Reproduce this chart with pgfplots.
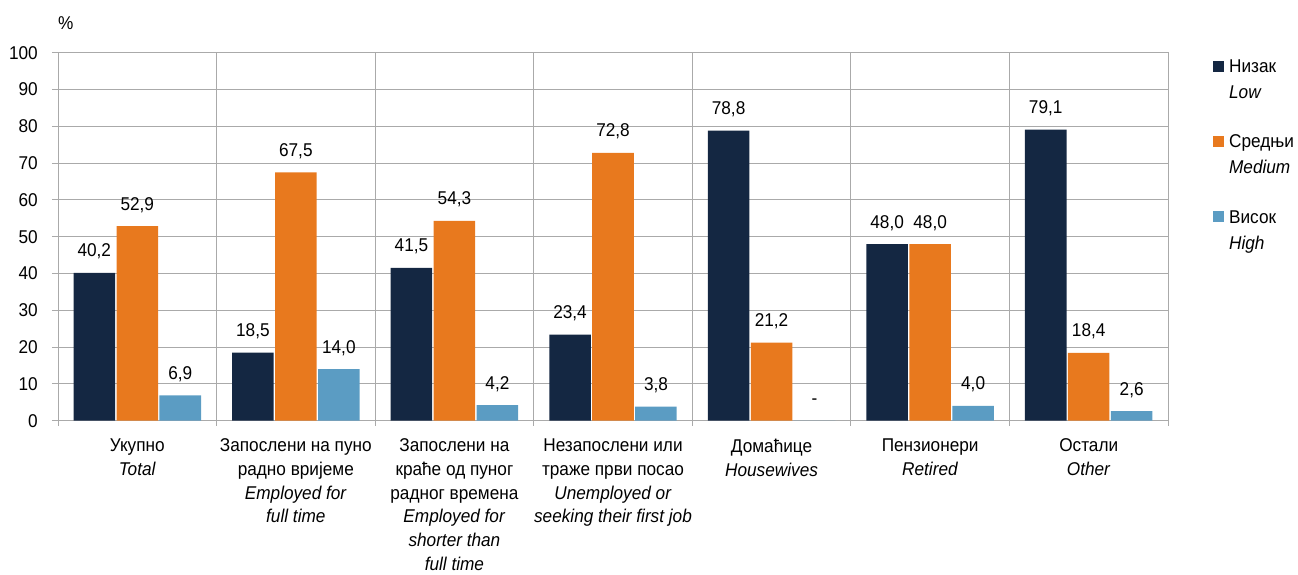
\documentclass[border=0pt]{standalone}
\usepackage{fontspec}
\setmainfont{Liberation Sans}[FakeStretch=0.93]
\usepackage{pgfplots}
\usepackage{pgfplotstable}
\pgfplotsset{compat=1.18}
\definecolor{cnavy}{RGB}{20,39,66}
\definecolor{corange}{RGB}{232,121,30}
\definecolor{cblue}{RGB}{91,156,195}
\definecolor{cgrid}{RGB}{170,170,170}
\pgfplotstableread{
x low lowl med medl high highl
0 40.2 40,2 52.9 52,9 6.9 6,9
1 18.5 18,5 67.5 67,5 14.0 14,0
2 41.5 41,5 54.3 54,3 4.2 4,2
3 23.4 23,4 72.8 72,8 3.8 3,8
4 78.8 78,8 21.2 21,2 0 -
5 48.0 48,0 48.0 48,0 4.0 4,0
6 79.1 79,1 18.4 18,4 2.6 2,6
}\datatable
\begin{document}
\begin{tikzpicture}[font=\fontsize{18.5}{23.7}\selectfont]
\useasboundingbox (0pt,0pt) rectangle (1298pt,575pt);
\begin{axis}[
  at={(58pt,154.3pt)}, anchor=south west,
  scale only axis, width=1110pt, height=368pt,
  xmin=-0.5, xmax=6.5, ymin=0, ymax=100,
  ytick={0,10,...,100},
  xtick={0,...,6},
  minor xtick={-0.5,0.5,...,6.5},
  xticklabels={
    {Укупно\\\textit{Total}},
    {Запослени на пуно\\радно вријеме\\\textit{Employed for}\\\textit{full time}},
    {Запослени на\\краће од пуног\\радног времена\\\textit{Employed for}\\\textit{shorter than}\\\textit{full time}},
    {Незапослени или\\траже први посао\\\textit{Unemployed or}\\\textit{seeking their first job}},
    {Домаћице\\\textit{Housewives}},
    {Пензионери\\\textit{Retired}},
    {Остали\\\textit{Other}}},
  xticklabel style={align=center, anchor=north, inner sep=0pt, yshift=-12pt},
  yticklabel style={anchor=east, inner sep=0pt, xshift=-14pt},
  /pgf/number format/assume math mode=true,
  tick align=outside,
  xtick pos=bottom, ytick pos=left,
  major tick length=6pt, minor tick length=5pt,
  major x tick style={draw=none},
  minor x tick style={cgrid, line width=0.8pt},
  major y tick style={cgrid, line width=0.8pt},
  ymajorgrids, xminorgrids,
  major grid style={cgrid, line width=0.8pt},
  minor grid style={cgrid, line width=0.8pt},
  axis line style={cgrid, line width=0.8pt},
  ybar, bar width=0.262,
  point meta=explicit symbolic,
  nodes near coords,
  every node near coord/.append style={anchor=base, inner sep=0pt, yshift=16pt},
  legend cell align=left,
  legend style={at={(1.0405,0.9815)}, anchor=north west, draw=none, fill=none,
    inner sep=0pt, row sep=35pt, column sep=5pt,
    font=\fontsize{18.5}{26}\selectfont,
    nodes={inner sep=0pt, align=left}},
  legend image code/.code={\fill[#1] (0pt,8pt) rectangle (11pt,19pt);},
  clip=false,
]
\addplot[fill=cnavy, draw=none, bar shift=-0.271] table[x=x, y=low, meta=lowl]{\datatable};
\addlegendentry{Низак\\\textit{Low}}
\addplot[fill=corange, draw=none, bar shift=0] table[x=x, y=med, meta=medl]{\datatable};
\addlegendentry{Средњи\\\textit{Medium}}
\addplot[fill=cblue, draw=none, bar shift=0.271] table[x=x, y=high, meta=highl]{\datatable};
\addlegendentry{Висок\\\textit{High}}
\node[anchor=base west, inner sep=0pt] at ([yshift=22.7pt]rel axis cs:0,1) {\%};
\end{axis}
\end{tikzpicture}
\end{document}
